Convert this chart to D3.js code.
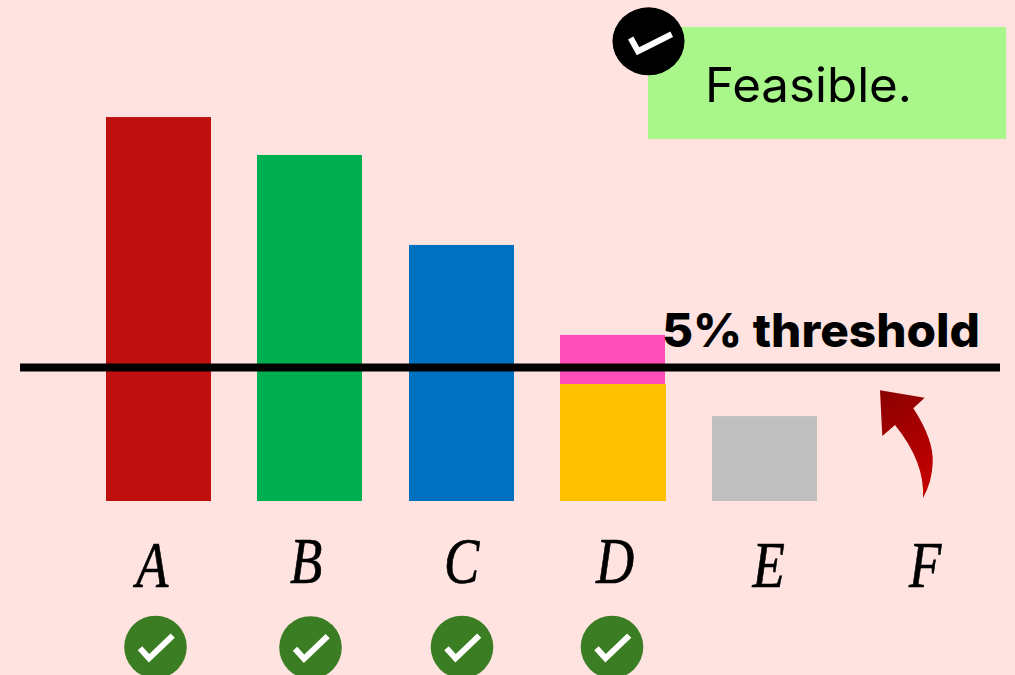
<!DOCTYPE html>
<html><head><meta charset="utf-8">
<script src="https://cdn.jsdelivr.net/npm/d3@7/dist/d3.min.js"></script>
<style>html,body{margin:0;padding:0;background:#fee3e0;overflow:hidden}svg{display:block}</style>
</head><body><svg id="c" width="1015" height="675"></svg>
<script>
const categories = ["A","B","C","D","E","F"];
const baseValues = [14.38,12.96,9.59,4.38,3.18,0];
const excessValues = [0,0,0,1.84,0,0];
const barColors = ["#c00f0f","#00b050","#0070c0","#ffc000","#bfbfbf","none"];
const excessColor = "#ff4dba";
const feasible = ["A","B","C","D"];
const threshold = 5;
const thresholdLabel = "5% threshold";
const noteLabel = "Feasible.";
const labelNudgeX = [-6.5,-3.5,0,2.5,4,9.5];
const labelY = [587,582.5,582.5,582.5,587,587];
const checkNudgeX = [-3,1,0.5,-0.5];
const checkY = [647,647.5,647,647];

const svg = d3.select("#c");
svg.append("rect").attr("width",1015).attr("height",675).attr("fill","#fee3e0");

const band = d3.scaleBand().domain(categories).range([106,968.5]).paddingInner(46.5/151.5).paddingOuter(0);
const barW = band.bandwidth();
const xs = c => Math.floor(band(c)+0.01);
const y = d3.scaleLinear().domain([0,threshold]).range([501,367.5]);

const defs = svg.append("defs");
const grad = defs.append("linearGradient").attr("id","arrowGrad").attr("x1","0").attr("y1","0").attr("x2","0.35").attr("y2","1");
grad.append("stop").attr("offset","0").attr("stop-color","#8a0000");
grad.append("stop").attr("offset","1").attr("stop-color","#c00000");

const rows = categories.map((c,i)=>({c,i,base:baseValues[i],extra:excessValues[i]}));
svg.selectAll("rect.extra").data(rows.filter(d=>d.extra>0)).join("rect").attr("class","extra")
  .attr("x",d=>xs(d.c)).attr("width",barW)
  .attr("y",d=>y(d.base+d.extra)).attr("height",d=>y(d.base)-y(d.base+d.extra)).attr("fill",excessColor);
svg.selectAll("rect.base").data(rows.filter(d=>d.base>0)).join("rect").attr("class","base")
  .attr("x",d=>xs(d.c)).attr("width",d=>d.extra>0?barW+1:barW)
  .attr("y",d=>y(d.base)).attr("height",d=>y(0)-y(d.base)).attr("fill",d=>barColors[d.i]);

svg.append("line").attr("x1",20).attr("x2",1000).attr("y1",y(threshold)).attr("y2",y(threshold))
  .attr("stroke","#000").attr("stroke-width",8);
svg.append("text").attr("x",662).attr("y",346.5).attr("font-family","Inter, sans-serif").attr("font-weight",800)
  .attr("font-size",46).attr("textLength",318).attr("lengthAdjust","spacingAndGlyphs").attr("fill","#000").text(thresholdLabel);

svg.selectAll("text.cat").data(rows).join("text").attr("class","cat")
  .attr("transform",d=>`translate(${xs(d.c)+barW/2+labelNudgeX[d.i]},${labelY[d.i]}) scale(0.8,1)`)
  .attr("text-anchor","middle").attr("font-family","'Liberation Serif', serif").attr("font-style","italic")
  .attr("font-size",66).attr("fill","#000").attr("stroke","#000").attr("stroke-width",0.7).text(d=>d.c);

const checks = svg.selectAll("g.check").data(feasible).join("g").attr("class","check")
  .attr("transform",(d,i)=>`translate(${xs(d)+barW/2+checkNudgeX[i]},${checkY[i]})`);
checks.append("circle").attr("r",31.3).attr("fill","#3b7d23");
checks.append("path").attr("d",d3.line()([[-15.5,1.3],[-6.5,11.3],[17.2,-11.3]]))
  .attr("fill","none").attr("stroke","#fff").attr("stroke-width",6);

svg.append("rect").attr("x",648).attr("y",27).attr("width",358).attr("height",112).attr("fill","#a9f78a");
svg.append("ellipse").attr("cx",648.5).attr("cy",41.3).attr("rx",36).attr("ry",34).attr("fill","#000");
svg.append("path").attr("d",d3.line()([[630.7,38],[638,51.3],[671.7,34.3]]))
  .attr("fill","none").attr("stroke","#fff").attr("stroke-width",6);
svg.append("text").attr("x",705).attr("y",101.5).attr("font-family","Inter, sans-serif")
  .attr("font-size",48).attr("textLength",207).attr("lengthAdjust","spacingAndGlyphs").attr("fill","#000").text(noteLabel);

svg.append("path").attr("fill","url(#arrowGrad)")
  .attr("d","M880,390.3 L924.7,397.7 L913.3,408.3 Q934,440 932.7,463.3 Q932,482 923,498 Q925,462 895,425 L882.3,436 Z");
</script></body></html>
